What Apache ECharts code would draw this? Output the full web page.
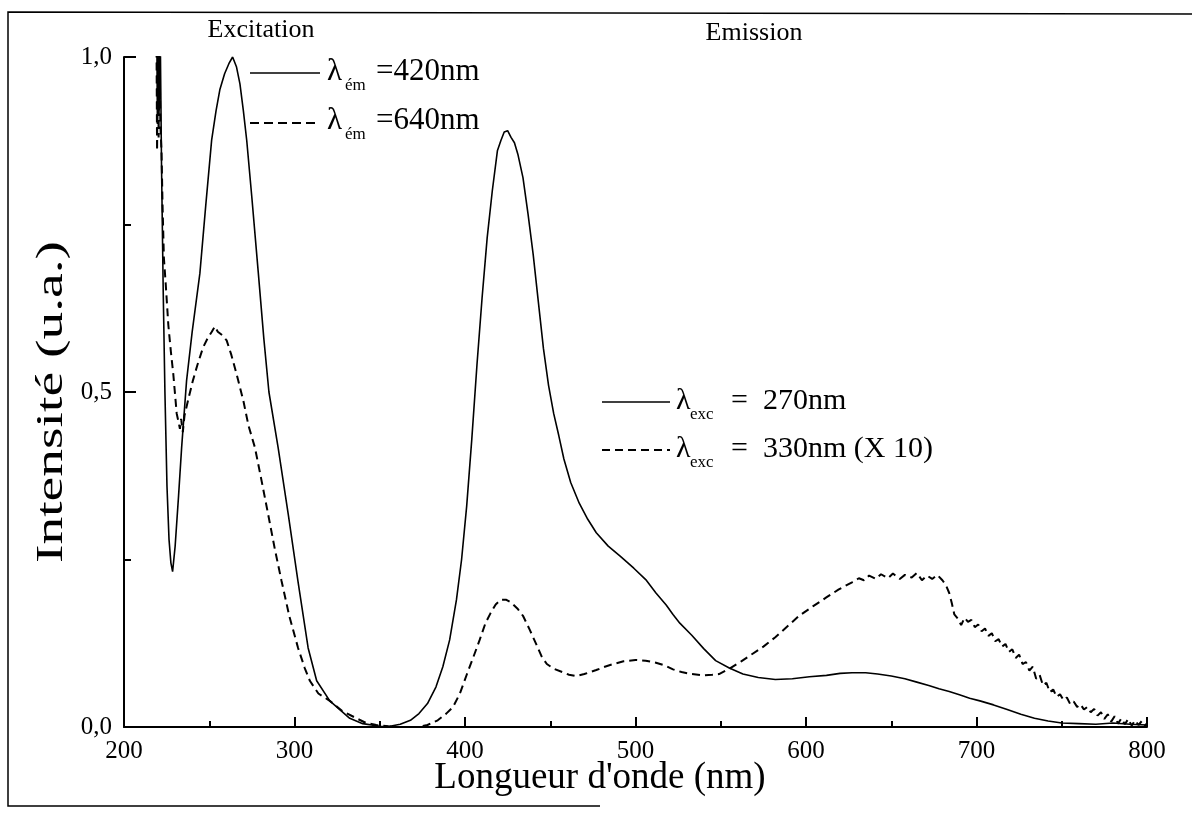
<!DOCTYPE html>
<html><head><meta charset="utf-8">
<script src="https://cdn.jsdelivr.net/npm/echarts@6/dist/echarts.min.js"></script>
<style>html,body{margin:0;padding:0;background:#fff}#c{width:1192px;height:813px}</style>
</head><body><div id="c"></div>
<script>
// ---- data (wavelength nm, intensity a.u.) ----
const xTicks = [200, 300, 400, 500, 600, 700, 800];
const yTicks = [0.0, 0.5, 1.0];
const excitation420 = [[219.2,1.05],[219.6,0.90],[220.0,1.05],[220.6,0.92],[221.2,1.05],[222.0,0.84],[223.0,0.65],[224.0,0.50],[225.2,0.36],[226.4,0.28],[227.5,0.245],[228.5,0.232],[230,0.27],[232,0.345],[233.8,0.417],[236.7,0.517],[240,0.59],[244.5,0.677],[248,0.78],[251.4,0.876],[254,0.92],[256.2,0.951],[259,0.975],[261.5,0.99],[263.7,1.0],[266,0.985],[268,0.96],[270,0.92],[272,0.875],[275,0.79],[278.7,0.68],[282,0.58],[285,0.50],[290.4,0.417],[296.3,0.318],[302,0.218],[308,0.118],[313,0.069],[320.7,0.039],[332.4,0.013],[340,0.005],[350,0.001],[355,0]];
const excitation640 = [[219.0,1.05],[219.4,0.86],[219.9,1.05],[220.3,0.88],[220.8,1.04],[221.3,0.90],[222.0,0.86],[222.6,0.78],[223.4,0.70],[224.5,0.66],[226,0.60],[227.5,0.56],[228.9,0.527],[230.9,0.468],[232,0.455],[232.8,0.445],[233.5,0.46],[234.5,0.44],[235.5,0.465],[237.5,0.487],[240.4,0.517],[243,0.54],[246.3,0.566],[249,0.58],[251.5,0.59],[253.3,0.598],[255,0.59],[257.5,0.585],[260.2,0.577],[263,0.555],[266,0.527],[270,0.487],[273,0.45],[276.8,0.417],[280.5,0.37],[284.5,0.318],[288.5,0.265],[292.4,0.218],[297,0.165],[302.1,0.118],[306,0.088],[309,0.069],[314,0.05],[320.7,0.039],[328,0.024],[336.3,0.013],[342,0.006],[348,0.003],[355,0.001],[360,0]];
const emission270 = [[340,0.0],[350,0.0],[356,0.001],[362,0.004],[368,0.01],[373,0.02],[378,0.035],[383,0.06],[387,0.09],[391,0.13],[395,0.19],[398,0.25],[401,0.33],[404,0.43],[407,0.54],[410,0.64],[413,0.73],[416,0.80],[419,0.86],[421,0.875],[423,0.888],[425,0.89],[427,0.88],[429,0.872],[431,0.855],[434,0.82],[437,0.765],[440,0.705],[443,0.635],[446,0.565],[449,0.51],[452,0.468],[455,0.435],[458,0.40],[462,0.365],[467,0.334],[472,0.31],[477,0.29],[484,0.27],[491,0.255],[499,0.237],[506,0.22],[512,0.2],[518,0.182],[522,0.168],[526,0.155],[533,0.137],[540,0.117],[547,0.099],[555,0.088],[563,0.079],[572,0.074],[582,0.071],[592,0.072],[602,0.075],[612,0.077],[620,0.080],[627,0.081],[635,0.081],[642,0.079],[650,0.076],[658,0.072],[665,0.067],[672,0.062],[678,0.057],[684,0.053],[690,0.048],[696,0.043],[702,0.039],[710,0.033],[718,0.026],[726,0.019],[734,0.013],[742,0.009],[750,0.006],[760,0.005],[770,0.004],[780,0.006],[790,0.004],[800,0.003]];
const emission330 = [[360,0.0],[372,0.0],[378,0.003],[384,0.01],[389,0.02],[393,0.03],[397,0.05],[401,0.078],[405,0.105],[408.6,0.13],[412,0.155],[415,0.17],[418,0.183],[421,0.19],[424,0.19],[427,0.186],[431,0.176],[434,0.166],[438,0.145],[441.7,0.124],[445,0.105],[448,0.094],[452,0.087],[457,0.082],[461,0.078],[465,0.076],[470,0.079],[477,0.085],[482,0.09],[487,0.094],[493,0.098],[500,0.1],[506,0.099],[512,0.096],[517,0.092],[522,0.086],[527,0.082],[533,0.079],[540,0.077],[545,0.078],[549,0.079],[555,0.087],[562,0.098],[568.5,0.109],[575,0.12],[582,0.134],[589,0.15],[596,0.166],[604,0.18],[611.7,0.193],[619,0.205],[627,0.216],[631,0.222],[634,0.219],[637,0.226],[641,0.221],[644,0.228],[648,0.222],[651,0.229],[655,0.221],[658,0.227],[662,0.223],[665,0.23],[668,0.219],[671,0.226],[674,0.221],[677,0.227],[680,0.219],[682,0.212],[684,0.2],[685.5,0.185],[687,0.168],[689,0.162],[691,0.152],[693,0.163],[695,0.157],[697,0.16],[699,0.149],[701,0.153],[703,0.143],[705,0.147],[707,0.136],[709,0.14],[711,0.128],[713,0.131],[715,0.12],[717,0.124],[719,0.112],[721,0.116],[723,0.103],[725,0.108],[727,0.094],[729,0.097],[731,0.084],[733,0.09],[735,0.072],[737,0.078],[739,0.062],[741,0.066],[743,0.052],[745,0.056],[747,0.045],[749,0.049],[751,0.04],[753,0.044],[755,0.034],[757,0.038],[759,0.03],[761,0.034],[763,0.026],[765,0.03],[767,0.022],[769,0.027],[771,0.017],[773,0.022],[775,0.012],[777,0.019],[779,0.008],[781,0.016],[783,0.005],[785,0.013],[787,0.004],[789,0.012],[791,0.002],[793,0.01],[795,0.003],[797,0.009],[799,0.002],[800,0.006]];

const FONT = '"Liberation Serif","Times New Roman",serif';
const chart = echarts.init(document.getElementById('c'), null, {renderer:'canvas'});
const solid = {color:'#000', width:1.6, type:'solid'};
const dashed = {color:'#000', width:2, type:[8,5]};
function txt(x, y, s, size, align, extra) {
  return Object.assign({type:'text', x:x, y:y, style:{text:s, font:size+'px '+FONT, fill:'#000', align:align||'left', verticalAlign:'middle'}}, extra||{});
}
chart.setOption({
  animation:false,
  backgroundColor:'#fff',
  grid:{left:124, right:45, top:57, bottom:86},
  xAxis:{type:'value', min:200, max:800, interval:100,
    axisLine:{lineStyle:{color:'#000', width:2}},
    axisTick:{inside:true, length:10, lineStyle:{color:'#000', width:2}},
    minorTick:{show:true, splitNumber:2, length:6, lineStyle:{color:'#000', width:2}},
    axisLabel:{color:'#000', fontFamily:FONT, fontSize:25, margin:12, customValues:xTicks},
    splitLine:{show:false}},
  yAxis:{type:'value', min:0, max:1, interval:0.5,
    axisLine:{show:true, lineStyle:{color:'#000', width:2}},
    axisTick:{show:true, inside:true, length:12, lineStyle:{color:'#000', width:2}},
    minorTick:{show:true, splitNumber:2, length:7, lineStyle:{color:'#000', width:2}},
    axisLabel:{color:'#000', fontFamily:FONT, fontSize:25, margin:12, customValues:yTicks,
      formatter:function(v){return v.toFixed(1).replace('.', ',');}},
    splitLine:{show:false}},
  series:[
    {type:'line', data:excitation420, showSymbol:false, lineStyle:solid, clip:true},
    {type:'line', data:excitation640, showSymbol:false, lineStyle:dashed, clip:true},
    {type:'line', data:emission270, showSymbol:false, lineStyle:solid, clip:true},
    {type:'line', data:emission330, showSymbol:false, lineStyle:dashed, clip:true}
  ],
  graphic:[
    {type:'polyline', shape:{points:[[1192,14],[8,12],[8,806],[600,806]]}, style:{stroke:'#000', lineWidth:1.5, fill:null}},
    txt(261, 30, 'Excitation', 26, 'center'),
    txt(754, 33, 'Emission', 26, 'center'),
    {type:'line', shape:{x1:250, y1:73, x2:320, y2:73}, style:{stroke:'#000', lineWidth:1.5}},
    txt(327, 72, 'λ', 31), txt(345, 86, 'ém', 17), txt(376, 72, '=420nm', 31),
    {type:'line', shape:{x1:250, y1:123, x2:320, y2:123}, style:{stroke:'#000', lineWidth:2, lineDash:[9,5]}},
    txt(327, 121, 'λ', 31), txt(345, 135, 'ém', 17), txt(376, 121, '=640nm', 31),
    {type:'line', shape:{x1:602, y1:402, x2:670, y2:402}, style:{stroke:'#000', lineWidth:1.5}},
    txt(676, 401, 'λ', 30), txt(690, 415, 'exc', 17), txt(731, 401, '=  270nm', 30),
    {type:'line', shape:{x1:602, y1:450, x2:670, y2:450}, style:{stroke:'#000', lineWidth:2, lineDash:[8,5]}},
    txt(676, 449, 'λ', 30), txt(690, 463, 'exc', 17), txt(731, 449, '=  330nm (X 10)', 30),
    txt(600, 778, 'Longueur d\'onde (nm)', 37, 'center'),
    txt(52, 402, 'Intensité (u.a.)', 37, 'center', {rotation:Math.PI/2, scaleX:1.5})
  ]
});
</script></body></html>
